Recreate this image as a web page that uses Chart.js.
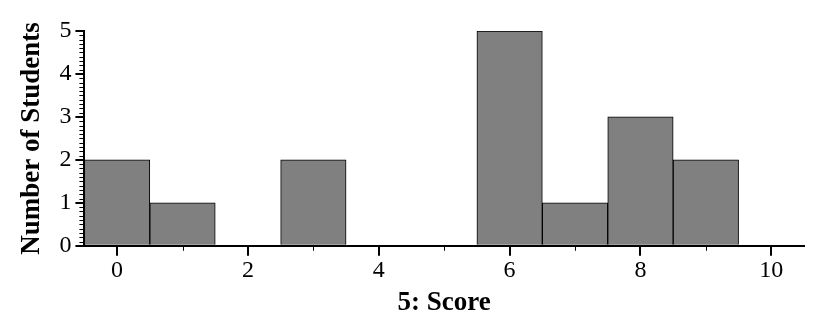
<!DOCTYPE html>
<html>
<head>
<meta charset="utf-8">
<script src="https://cdn.jsdelivr.net/npm/chart.js@4.4.1/dist/chart.umd.min.js"></script>
<style>
  html, body { margin: 0; padding: 0; background: #fff; }
  #wrap { width: 824px; height: 332px; }
</style>
</head>
<body>
<div id="wrap"><canvas id="hist"></canvas></div>
<script>
// -------------------- data
var scores = [0, 1, 2, 3, 4, 5, 6, 7, 8, 9];
var students = [2, 1, 0, 2, 0, 0, 5, 1, 3, 2];
var xTicks = [0, 1, 2, 3, 4, 5, 6, 7, 8, 9, 10];
var yTicks = [0, 1, 2, 3, 4, 5];

var serif = '"Liberation Serif", "Times New Roman", serif';

var pts = [];
for (var i = 0; i < scores.length; i++) {
	pts.push({ x: scores[i], y: students[i] });
}

// short ticks between the long ones
var minorTicks = {
	id: 'minorTicks',
	afterDraw: function(chart) {
		var ctx = chart.ctx;
		var xs = chart.scales.x, ys = chart.scales.y;
		var a = chart.chartArea;
		ctx.save();
		ctx.strokeStyle = '#000';
		ctx.lineWidth = 1;
		ctx.beginPath();
		for (var k = 1; k < 50; k++) {
			if (k % 10 == 0) continue;
			var py = Math.round(ys.getPixelForValue(k / 10)) + 0.5;
			ctx.moveTo(a.left - 5, py);
			ctx.lineTo(a.left, py);
		}
		for (var j = 0; j < xTicks.length; j++) {
			if (xTicks[j] % 2 == 0) continue;
			var px = Math.round(xs.getPixelForValue(xTicks[j])) + 0.5;
			ctx.moveTo(px, a.bottom);
			ctx.lineTo(px, a.bottom + 5);
		}
		ctx.stroke();
		ctx.restore();
	}
};

var ctx = document.getElementById('hist').getContext('2d');
window.hist = new Chart(ctx, {
	type: 'bar',
	data: {
		datasets: [{
			data: pts,
			backgroundColor: '#808080',
			borderColor: '#000',
			borderWidth: 1,
			barPercentage: 1,
			categoryPercentage: 1
		}]
	},
	options: {
		responsive: true,
		maintainAspectRatio: false,
		animation: false,
		layout: { padding: { top: 31, right: 20, left: 16, bottom: 13 } },
		plugins: { legend: { display: false }, tooltip: { enabled: false } },
		scales: {
			x: {
				type: 'linear',
				offset: false,
				min: -0.5,
				max: 10.5,
				afterBuildTicks: function(s) {
					s.ticks = xTicks.map(function(v) { return { value: v }; });
				},
				ticks: {
					autoSkip: false,
					maxRotation: 0,
					padding: 1,
					color: '#000',
					font: { family: serif, size: 24 },
					callback: function(v) { return v % 2 == 0 ? v : ''; }
				},
				grid: {
					drawOnChartArea: false,
					offset: false,
					tickLength: 10,
					lineWidth: 2,
					tickColor: function(c) { return c.tick && c.tick.value % 2 == 0 ? '#000' : 'rgba(0,0,0,0)'; }
				},
				border: { color: '#000', width: 2 },
				title: {
					display: true,
					text: '5: Score',
					color: '#000',
					padding: { top: 0, bottom: 0 },
					font: { family: serif, size: 27, weight: 'bold' }
				}
			},
			y: {
				min: 0,
				max: 5,
				afterBuildTicks: function(s) {
					s.ticks = yTicks.map(function(v) { return { value: v }; });
				},
				ticks: {
					padding: 4,
					color: '#000',
					font: { family: serif, size: 24 }
				},
				grid: {
					drawOnChartArea: false,
					tickLength: 9,
					lineWidth: 2,
					tickColor: '#000'
				},
				border: { color: '#000', width: 2 },
				title: {
					display: true,
					text: 'Number of Students',
					color: '#000',
					padding: { top: 0, bottom: 7 },
					font: { family: serif, size: 27, weight: 'bold' }
				}
			}
		}
	},
	plugins: [minorTicks]
});
</script>
</body>
</html>
